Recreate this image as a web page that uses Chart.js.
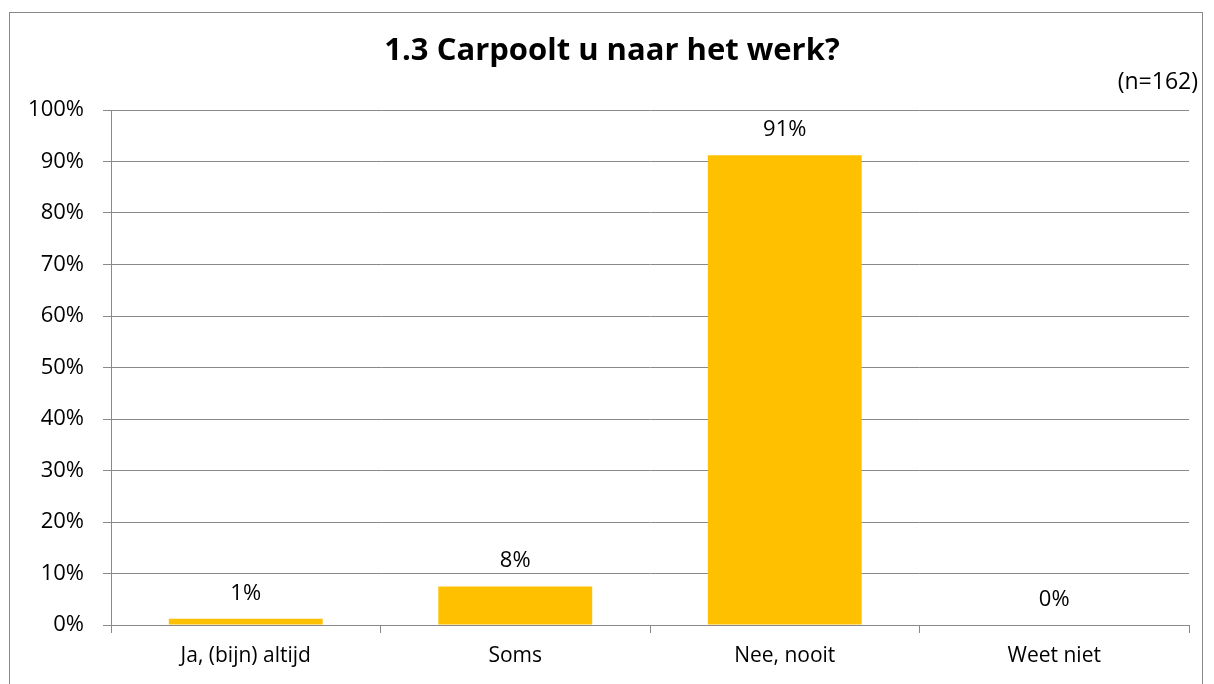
<!DOCTYPE html>
<html>
<head>
<meta charset="utf-8">
<script src="https://cdn.jsdelivr.net/npm/chart.js@4/dist/chart.umd.min.js"></script>
<style>
  html, body { margin: 0; padding: 0; background: #fff; }
  #wrap { position: relative; width: 1214px; height: 684px; overflow: hidden; }
  #frame { position: absolute; left: 9px; top: 12px; width: 1194px; height: 700px; border: 1px solid #898989; box-sizing: border-box; }
  canvas { position: absolute; left: 0; top: 0; }
</style>
</head>
<body>
<div id="wrap">
  <div id="frame"></div>
  <canvas id="c" width="1214" height="684"></canvas>
</div>
<script>
const titleText = '1.3 Carpoolt u naar het werk?';
const noteText = '(n=162)';
const categories = ['Ja, (bijn) altijd', 'Soms', 'Nee, nooit', 'Weet niet'];
const values = [1.2, 7.5, 91.2, 0];
const valueLabels = ['1%', '8%', '91%', '0%'];
const yTicks = [0, 10, 20, 30, 40, 50, 60, 70, 80, 90, 100];

const FONT = '"Open Sans", Lato, sans-serif';
const GRID = '#898989';

const textPlugin = {
  id: 'texts',
  afterDatasetsDraw(chart) {
    const ctx = chart.ctx;
    const meta = chart.getDatasetMeta(0);
    ctx.save();
    ctx.fillStyle = '#000';
    ctx.font = '22px ' + FONT;
    ctx.textAlign = 'center';
    ctx.textBaseline = 'alphabetic';
    meta.data.forEach((bar, i) => {
      ctx.fillText(valueLabels[i], bar.x, bar.y - 19);
    });
    ctx.font = 'bold 31px ' + FONT;
    ctx.fillText(titleText, 612, 60);
    ctx.font = '23px ' + FONT;
    ctx.textAlign = 'right';
    ctx.fillText(noteText, 1198, 89);
    ctx.restore();
  }
};

new Chart(document.getElementById('c'), {
  type: 'bar',
  data: {
    labels: categories,
    datasets: [{
      data: values,
      backgroundColor: '#FFC000',
      borderWidth: 0,
      barPercentage: 0.571,
      categoryPercentage: 1.0
    }]
  },
  options: {
    responsive: false,
    animation: false,
    devicePixelRatio: 1,
    layout: { padding: { top: 110, right: 25, left: 0, bottom: 0 } },
    plugins: { legend: { display: false }, tooltip: { enabled: false }, title: { display: false } },
    scales: {
      x: {
        grid: { display: true, drawOnChartArea: false, drawTicks: true, tickLength: 8, color: GRID, offset: true },
        border: { display: true, color: GRID, width: 1 },
        ticks: { color: '#000', font: { family: FONT, size: 21 }, padding: 10, maxRotation: 0 },
        afterFit(s) { s.height = 59; }
      },
      y: {
        min: 0, max: 100,
        afterBuildTicks(s) { s.ticks = yTicks.map(v => ({ value: v })); },
        grid: { color: GRID, tickLength: 8, lineWidth: 1 },
        border: { display: true, color: GRID, width: 1 },
        ticks: { color: '#000', font: { family: FONT, size: 22 }, padding: 19, callback: v => v + '%' },
        afterFit(s) { s.width = 111; }
      }
    }
  },
  plugins: [textPlugin]
});
</script>
</body>
</html>
